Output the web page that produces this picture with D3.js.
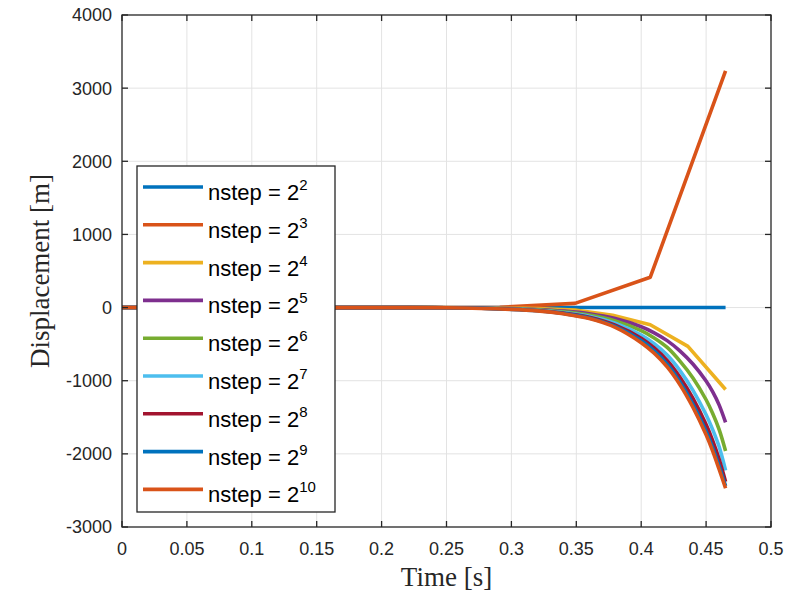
<!DOCTYPE html>
<html lang="en">
<head>
    <meta charset="UTF-8">
    <title>Displacement vs time</title>
    <script src="https://d3js.org/d3.v7.min.js"></script>
    <style>
        body { margin: 0; background: #fff; }
        .tick-label { font-family: "Liberation Sans", Arial, sans-serif; font-size: 18px; fill: #262626; }
        .axis-label { font-family: "Liberation Serif", "DejaVu Serif", serif; font-size: 27px; fill: #262626; }
        .legend-text { font-family: "Liberation Sans", Arial, sans-serif; font-size: 22px; fill: #000; }
    </style>
</head>
<body>
<div id="chart"></div>
<script>
// time grids (s)
const time4 = [0, 0.116, 0.233, 0.349, 0.465];
const time8 = [0, 0.058, 0.116, 0.174, 0.233, 0.291, 0.349, 0.407, 0.465];
const time16 = [0, 0.029, 0.058, 0.087, 0.116, 0.145, 0.174, 0.203, 0.233, 0.262, 0.291, 0.320, 0.349, 0.378, 0.407, 0.436, 0.465];
const timeFine = [0, 0.05, 0.1, 0.15, 0.2, 0.25, 0.3, 0.32, 0.34, 0.36, 0.38, 0.40, 0.41, 0.42, 0.43, 0.44, 0.45, 0.455, 0.46, 0.465];

// displacement (m)
const disp4 = [0, 0, 0, 0, 0];
const disp8 = [0, 0, 0, 0, 0, 4, 58, 415, 3235];
const disp16 = [0, 0, 0, 0, 0, 0, 0, -0.5, -1, -2, -5, -13, -35, -105, -235, -530, -1120];
const disp32 = [0, 0, 0, -0.3, -1, -2, -14, -26, -48, -84, -150, -262, -345, -452, -595, -775, -1005, -1150, -1330, -1570];
const disp64 = [0, 0, 0, -0.3, -1, -2, -17, -31, -58, -102, -182, -315, -415, -545, -735, -965, -1260, -1445, -1665, -1960];
const disp128 = [0, 0, 0, -0.4, -1, -2.5, -20, -36, -68, -120, -215, -376, -495, -650, -865, -1135, -1465, -1665, -1900, -2225];
const disp256 = [0, 0, 0, -0.5, -1, -3, -22, -40, -76, -134, -242, -420, -552, -722, -955, -1245, -1600, -1815, -2070, -2380];
const disp512 = [0, 0, 0, -0.5, -1, -3, -24, -43, -81, -143, -258, -450, -590, -772, -1020, -1325, -1690, -1910, -2165, -2440];
const disp1024 = [0, 0, 0, -0.5, -1, -3, -25, -45, -85, -150, -270, -480, -625, -812, -1060, -1370, -1740, -1960, -2210, -2470];

const exponents = [2, 3, 4, 5, 6, 7, 8, 9, 10];
const colors = ["#0072BD", "#D95319", "#EDB120", "#7E2F8E", "#77AC30", "#4DBEEE", "#A2142F", "#0072BD", "#D95319"];
const xTicks = [0, 0.05, 0.1, 0.15, 0.2, 0.25, 0.3, 0.35, 0.4, 0.45, 0.5];
const yTicks = [-3000, -2000, -1000, 0, 1000, 2000, 3000, 4000];

const series = [
    { t: time4, v: disp4, smooth: false },
    { t: time8, v: disp8, smooth: false },
    { t: time16, v: disp16, smooth: false },
    { t: timeFine, v: disp32, smooth: true },
    { t: timeFine, v: disp64, smooth: true },
    { t: timeFine, v: disp128, smooth: true },
    { t: timeFine, v: disp256, smooth: true },
    { t: timeFine, v: disp512, smooth: true },
    { t: timeFine, v: disp1024, smooth: true }
];

const width = 795, height = 593;
const margin = { top: 15, right: 24, bottom: 66, left: 122 };
const innerW = width - margin.left - margin.right;
const innerH = height - margin.top - margin.bottom;

const svg = d3.select("#chart").append("svg")
    .attr("width", width)
    .attr("height", height);

const g = svg.append("g").attr("transform", `translate(${margin.left},${margin.top})`);

const x = d3.scaleLinear().domain([0, 0.5]).range([0, innerW]);
const y = d3.scaleLinear().domain([-3000, 4000]).range([innerH, 0]);

// grid
g.append("g").selectAll("line").data(xTicks.slice(1, -1)).join("line")
    .attr("x1", d => x(d)).attr("x2", d => x(d))
    .attr("y1", 0).attr("y2", innerH)
    .attr("stroke", "#e3e3e3").attr("stroke-width", 1);
g.append("g").selectAll("line").data(yTicks.slice(1, -1)).join("line")
    .attr("y1", d => y(d)).attr("y2", d => y(d))
    .attr("x1", 0).attr("x2", innerW)
    .attr("stroke", "#e3e3e3").attr("stroke-width", 1);

// lines
series.forEach((s, i) => {
    const pts = s.t.map((t, j) => [t, s.v[j]]);
    const line = d3.line()
        .x(d => x(d[0]))
        .y(d => y(d[1]))
        .curve(s.smooth ? d3.curveCatmullRom.alpha(0.5) : d3.curveLinear);
    g.append("path")
        .datum(pts)
        .attr("fill", "none")
        .attr("stroke", colors[i])
        .attr("stroke-width", 3.6)
        .attr("stroke-linejoin", "round")
        .attr("d", line);
});

// axes box and inward ticks
const tickLen = 6;
const axisColor = "#262626";
g.append("rect").attr("x", 0).attr("y", 0).attr("width", innerW).attr("height", innerH)
    .attr("fill", "none").attr("stroke", axisColor).attr("stroke-width", 1.3);
xTicks.forEach(d => {
    g.append("line").attr("x1", x(d)).attr("x2", x(d)).attr("y1", innerH).attr("y2", innerH - tickLen)
        .attr("stroke", axisColor).attr("stroke-width", 1.3);
    g.append("line").attr("x1", x(d)).attr("x2", x(d)).attr("y1", 0).attr("y2", tickLen)
        .attr("stroke", axisColor).attr("stroke-width", 1.3);
    g.append("text").attr("class", "tick-label")
        .attr("x", x(d)).attr("y", innerH + 28)
        .attr("text-anchor", "middle")
        .text(d3.format("~g")(d));
});
yTicks.forEach(d => {
    g.append("line").attr("x1", 0).attr("x2", tickLen).attr("y1", y(d)).attr("y2", y(d))
        .attr("stroke", axisColor).attr("stroke-width", 1.3);
    g.append("line").attr("x1", innerW).attr("x2", innerW - tickLen).attr("y1", y(d)).attr("y2", y(d))
        .attr("stroke", axisColor).attr("stroke-width", 1.3);
    g.append("text").attr("class", "tick-label")
        .attr("x", -10).attr("y", y(d)).attr("dy", "0.36em")
        .attr("text-anchor", "end")
        .text(d);
});

// axis labels
svg.append("text").attr("class", "axis-label")
    .attr("x", margin.left + innerW / 2).attr("y", 586)
    .attr("text-anchor", "middle")
    .text("Time [s]");
svg.append("text").attr("class", "axis-label")
    .attr("transform", `translate(49,${margin.top + 256}) rotate(-90)`)
    .attr("text-anchor", "middle")
    .text("Displacement [m]");

// legend
const legend = svg.append("g");
legend.append("rect")
    .attr("x", 137).attr("y", 166).attr("width", 198).attr("height", 346)
    .attr("fill", "#fff").attr("stroke", axisColor).attr("stroke-width", 1.3);
exponents.forEach((e, i) => {
    const ly = 187 + i * 37.8;
    legend.append("line")
        .attr("x1", 143).attr("x2", 203).attr("y1", ly).attr("y2", ly)
        .attr("stroke", colors[i]).attr("stroke-width", 3.6);
    const txt = legend.append("text").attr("class", "legend-text")
        .attr("x", 208).attr("y", ly + 13);
    txt.append("tspan").text("nstep = 2");
    txt.append("tspan").attr("dy", -10).attr("font-size", 15).text(e);
});
</script>
</body>
</html>
